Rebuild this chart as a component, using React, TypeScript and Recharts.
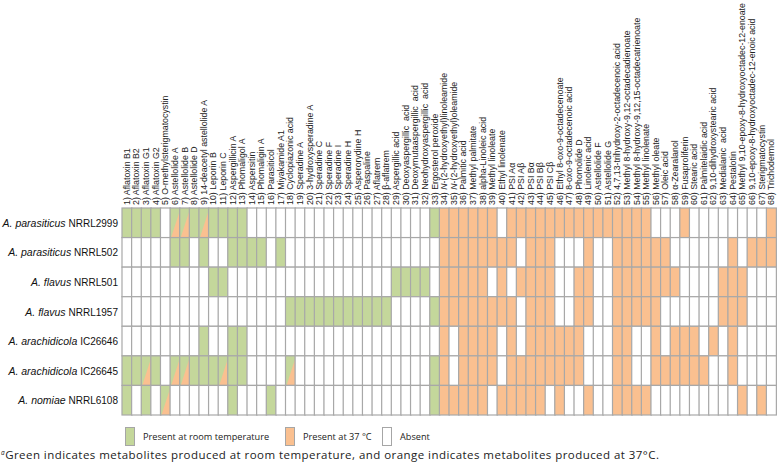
import { BarChart, Bar, XAxis, YAxis } from 'recharts'

const GREEN = '#c4d79b'
const ORANGE = '#fac090'
const GRID = '#a8a8a8'
const FONT = '"Liberation Sans", Arial, sans-serif'
const NOTE_FONT = '"Open Sans", "Liberation Sans", sans-serif'

const metabolites = [
  'Aflatoxin B1', 'Aflatoxin B2', 'Aflatoxin G1', 'Aflatoxin G2', 'O-methylsterigmatocystin',
  'Astellolide A', 'Astellolide B', 'Astellolide D', '14-deacetyl astellolide A', 'Leporin B',
  'Leporin C', 'Aspergillicin A', 'Phomaligol A', 'Aspersitin', 'Phomaligin A',
  'Parasiticol', 'Miyakamide A1', 'Cyclopiazonic acid', 'Speradine A', '3-hydroxysperadine A',
  'Speradine C', 'Speradine F', 'Speradine I', 'Speradine H', 'Asperorydine H',
  'Paspaline', 'Aflatrem', 'β-aflatrem', 'Aspergillic acid', 'Deoxyaspergillic  acid',
  'Deoxymutaaspergillic  acid', 'Neohydroxyaspergillic  acid', 'Ergosterol peroxide', 'N-(2-hydroxyethyl)linoleamide', 'N-(2-hydroxyethyl)oleamide',
  'Palmitic acid', 'Methyl palmitate', 'alpha-Linoleic acid', 'Methyl linoleate', 'Ethyl linolenate',
  'PSI Aα', 'PSI Aβ', 'PSI Bα', 'PSI Bβ', 'PSI Cβ',
  'Ethyl 8-oxo-9-octadecenoate', '8-oxo-9-octadecenoic acid', 'Phomolide D', 'Linolenic acid', 'Astellolide F',
  'Astellolide G', '4,7,13-trihydroxy-2-octadecenoic acid', 'Methyl 8-hydroxy-9,12-octadecadienoate', 'Methyl 8-hydroxy-9,12,15-octadecatrienoate', 'Methyl linolenate',
  'Methyl oleate', 'Oleic acid', 'α-Zearalanol', 'Fusaproliferin', 'Stearic acid',
  'Palmitelaidic acid', '9,10-dihydroxystearic acid', 'Medialanic  acid', 'Pestalotin', 'Methyl 9,10-epoxy-8-hydroxyoctadec-12-enoate',
  '9,10-epoxy-8-hydroxyoctadec-12-enoic acid', 'Sterigmatocystin', 'Trichodermol',
]

const speciesNames = ['A. parasiticus', 'A. parasiticus', 'A. flavus', 'A. flavus', 'A. arachidicola', 'A. arachidicola', 'A. nomiae']
const strainCodes = ['NRRL2999', 'NRRL502', 'NRRL501', 'NRRL1957', 'IC26646', 'IC26645', 'NRRL6108']

// G = room temperature, O = 37 °C, S = both (split cell), W = absent; blocks of 10 metabolites
const parasiticus2999 = 'GGGGWSSGSG GGGWWWWWWW WWWWWWWWWW WWGOOOOOOW OOOOOOOOOO OOOOOWWWOW WWWWWWWO'
const parasiticus502 = 'WWWWWGGWGW WGGGGWGWWW WWWWWWWWWW WWWOOOOOOO OWOOOWWWOW WOOOOOOWWW WWWOWOOO'
const flavus501 = 'WWWWWWWWWG GWWWWWWWWW WWWWWWWWGG GGWOOOOOWO WOOOOWWOOW WOOOOOOOWW WWOOOWWW'
const flavus1957 = 'WWWWWWWWWW WWWWWWWGGG GGGGGGGGWW WWGOOOOOOO OWOOOWWOOW WOOOOOWWWW WWOOOWWW'
const arachidicola26646 = 'WWWWWWWWGW WGGWWWWWWW WWWWWWWWWW WWWOWOOOOW OWOOOOOOWW WOOWWOWOOO WOWOWWWW'
const arachidicola26645 = 'GGSGWSSGGG SGGWWWWSWW WWWWWWWWWW WWGOWOOOOW OOOOOOOOWW WOOWWOOOOO OWWOWWWW'
const nomiae6108 = 'GWGWSWWWWW WGWWWGWWWW WWWWWWWWWW WWGOOOOOWO OOOOWOWWOW WOOOOWWWWW WWWWOWOW'

const rows = [
  parasiticus2999, parasiticus502, flavus501, flavus1957,
  arachidicola26646, arachidicola26645, nomiae6108,
].map((r) => r.replace(/ /g, '').split(''))

const data = metabolites.map((name, j) => {
  const d: Record<string, string | number> = { name: `${j + 1}) ${name}` }
  rows.forEach((r, i) => {
    d[`r${i}`] = 1
    d[`s${i}`] = r[j]
  })
  return d
})

function makeCell(row: number) {
  return (props: any) => {
    const { payload } = props
    // reversed axis gives negative heights, normalise them
    const x = props.x
    const width = props.width
    const height = Math.abs(props.height)
    const y = props.height < 0 ? props.y + props.height : props.y
    const s = payload[`s${row}`]
    const fill = s === 'O' ? ORANGE : s === 'W' ? '#ffffff' : GREEN
    return (
      <g>
        <rect x={x} y={y} width={width} height={height} fill={fill} />
        {s === 'S' && (
          <polygon
            points={`${x + 1},${y + height} ${x + width},${y + 2} ${x + width},${y + height}`}
            fill={ORANGE}
          />
        )}
        <rect x={x} y={y} width={width} height={height} fill="none" stroke={GRID} strokeWidth={1.2} />
      </g>
    )
  }
}

function MetaboliteTick(props: any) {
  const { x, y, payload } = props
  const label: string = payload.value
  const m = label.match(/^(\d+\) )N(-.*)$/)
  return (
    <text
      transform={`translate(${x},${y}) rotate(-90)`}
      textAnchor="start"
      dominantBaseline="central"
      fontSize={8.8}
      fill="#222"
      fontFamily={FONT}
      style={{ whiteSpace: 'pre' }}
    >
      {m ? (
        <>
          {m[1]}
          <tspan fontStyle="italic">N</tspan>
          {m[2]}
        </>
      ) : (
        label
      )}
    </text>
  )
}

function StrainTick(props: any) {
  const { x, y, payload } = props
  const i = Math.floor(payload.value)
  return (
    <text x={x} y={y} textAnchor="end" dominantBaseline="central" fontSize={10.5} fill="#111" fontFamily={FONT}>
      <tspan fontStyle="italic">{speciesNames[i]}</tspan> <tspan fontSize={10}>{strainCodes[i]}</tspan>
    </text>
  )
}

const legendItems = [
  { label: 'Present at room temperature', color: GREEN, left: 125 },
  { label: 'Present at 37 °C', color: ORANGE, left: 285 },
  { label: 'Absent', color: '#ffffff', left: 382 },
]

export default function App() {
  return (
    <div style={{ position: 'absolute', left: 0, top: 0, width: 778, height: 464, background: '#fff' }}>
      <BarChart
        width={778}
        height={418}
        data={data}
        margin={{ top: 0, right: 2, bottom: 3, left: 0 }}
        barCategoryGap={0}
        barGap={0}
      >
        <XAxis
          dataKey="name"
          type="category"
          orientation="top"
          height={208}
          interval={0}
          tickLine={false}
          axisLine={false}
          tickSize={0}
          tickMargin={3}
          tick={<MetaboliteTick />}
        />
        <YAxis
          type="number"
          domain={[0, 7]}
          reversed
          width={122}
          ticks={[0.5, 1.5, 2.5, 3.5, 4.5, 5.5, 6.5]}
          tickLine={false}
          axisLine={false}
          tickSize={0}
          tickMargin={4}
          tick={<StrainTick />}
        />
        {rows.map((_, i) => (
          <Bar
            key={i}
            dataKey={`r${i}`}
            stackId="a"
            isAnimationActive={false}
            shape={makeCell(i)}
          />
        ))}
      </BarChart>
      {legendItems.map((it) => (
        <div key={it.label} style={{ position: 'absolute', top: 427, left: it.left, display: 'flex', alignItems: 'center' }}>
          <div style={{ width: 8, height: 17, background: it.color, border: '1px solid #a6a6a6' }} />
          <span style={{ marginLeft: 8, fontFamily: NOTE_FONT, fontSize: 9.2, color: '#222' }}>{it.label}</span>
        </div>
      ))}
      <div
        style={{
          position: 'absolute',
          left: 1,
          top: 447,
          fontFamily: NOTE_FONT,
          fontSize: 11.5,
          letterSpacing: 0.45,
          color: '#222',
          whiteSpace: 'nowrap',
        }}
      >
        <sup style={{ fontSize: 6.5, fontStyle: 'italic', verticalAlign: 4 }}>a</sup>Green indicates metabolites produced at room temperature, and orange indicates metabolites produced at 37°C.
      </div>
    </div>
  )
}
